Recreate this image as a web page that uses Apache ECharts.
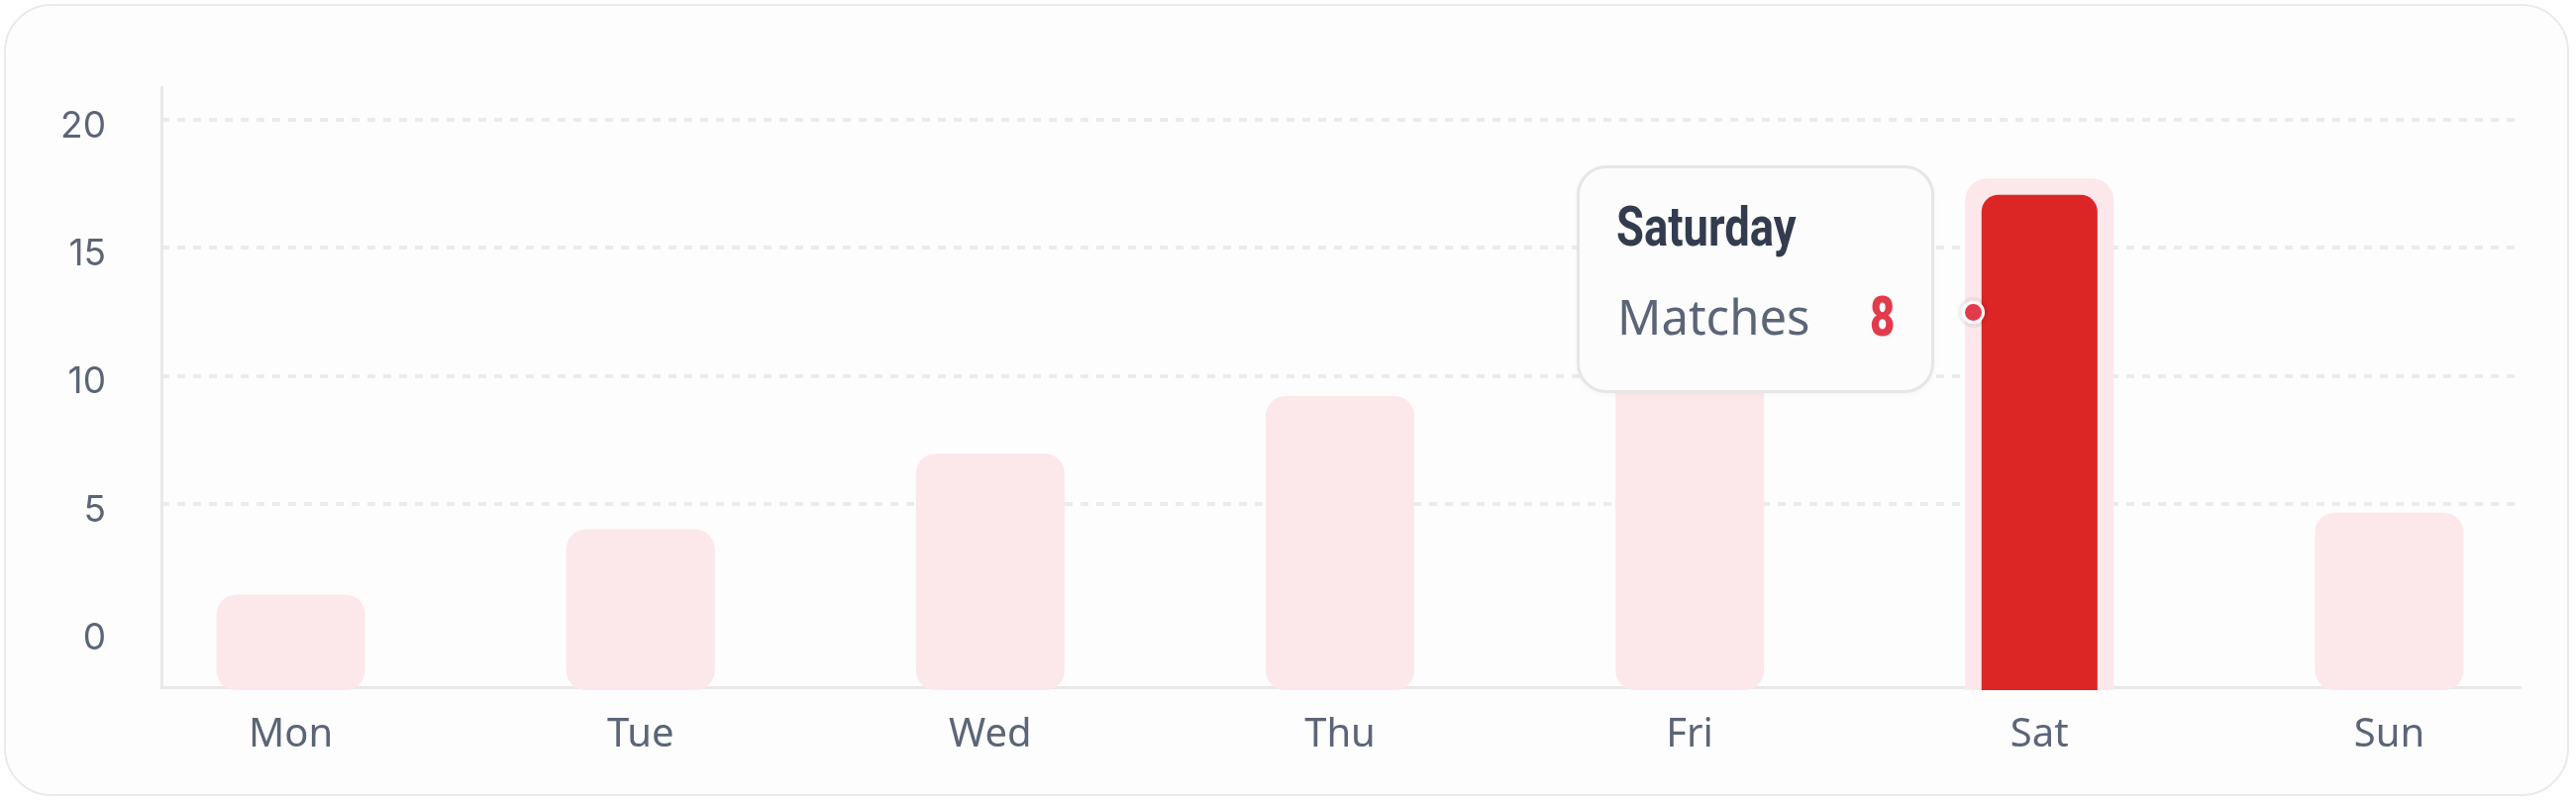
<!DOCTYPE html>
<html><head><meta charset="utf-8">
<script src="https://cdn.jsdelivr.net/npm/echarts@6/dist/echarts.min.js"></script>
<style>
html,body{margin:0;padding:0;background:#ffffff;}
#card{position:absolute;left:4px;top:4px;width:2586px;height:796px;border:2px solid #EAEAEA;border-radius:48px;background:#FDFDFD;}
#chart{position:absolute;left:0;top:0;width:2601px;height:810px;}
.tt{position:absolute;white-space:nowrap;transform-origin:0 0;}
</style></head><body>
<div id="card"></div><div id="chart"></div>
<script>
// ---- data ----
const days = ['Mon', 'Tue', 'Wed', 'Thu', 'Fri', 'Sat', 'Sun'];
const matches = [1.45, 4.0, 6.95, 9.2, 12.0, 17.7, 4.65];
const yTicks = [0, 5, 10, 15, 20];
const yGridTicks = [5, 10, 15, 20];
const highlightIndex = 5;
const tooltipTitle = 'Saturday';
const tooltipLabel = 'Matches';
const tooltipValue = 8;
const yMin = -2.184;
const yMax = 21.264;

const chart = echarts.init(document.getElementById('chart'), null, {renderer: 'canvas'});

const tipHtml =
  '<div style="position:relative;width:355px;height:224px;">' +
  '<div class="tt" style="left:37px;top:31px;font-family:Roboto;font-weight:bold;font-size:56px;line-height:56px;color:#333C4E;transform:scaleX(0.81);">' + tooltipTitle + '</div>' +
  '<div class="tt" style="left:38px;top:125px;font-family:\'Noto Sans\';font-size:49px;line-height:49px;color:#5B6577;">' + tooltipLabel + '</div>' +
  '<div class="tt" style="left:293px;top:122px;font-family:Roboto;font-weight:900;font-size:56px;line-height:56px;color:#E23B4B;transform:scaleX(0.78);">' + tooltipValue + '</div>' +
  '<div style="position:absolute;left:386px;top:134px;width:17px;height:17px;border:3px solid #ffffff;border-radius:50%;background:#E23B4B;box-shadow:0 0 0 4px rgba(0,0,0,0.05);"></div>' +
  '</div>';

const option = {
  animation: false,
  grid: [
    {left: 163, right: 56, top: 88, bottom: 115.5, outerBoundsMode: 'none'},
    {left: 117, right: 12, top: 88, bottom: 115.5, outerBoundsMode: 'none'}
  ],
  xAxis: [
    {
      gridIndex: 0, type: 'category', data: days,
      axisLine: {show: true, onZero: false, lineStyle: {color: '#E8E8E8', width: 3}},
      axisTick: {show: false}, axisLabel: {show: false}, splitLine: {show: false}
    },
    {
      gridIndex: 1, type: 'category', data: days,
      axisLine: {show: false, onZero: false}, axisTick: {show: false}, splitLine: {show: false},
      axisLabel: {fontFamily: 'Noto Sans', fontSize: 40, lineHeight: 40, color: '#5B6577', margin: 28}
    }
  ],
  yAxis: [
    {
      gridIndex: 0, type: 'value', min: yMin, max: yMax,
      axisLine: {show: true, lineStyle: {color: '#E8E8E8', width: 3}},
      axisTick: {show: false, customValues: yGridTicks},
      axisLabel: {customValues: yTicks, fontFamily: 'Inter', fontSize: 37, lineHeight: 14, verticalAlign: 'top', color: '#5B6577', margin: 56},
      splitLine: {show: true, lineStyle: {color: '#EBEBEB', width: 4, type: [8, 8]}}
    },
    {
      gridIndex: 1, type: 'value', min: yMin, max: yMax, show: false,
      splitLine: {show: false}
    }
  ],
  tooltip: {
    trigger: 'item', triggerOn: 'none', alwaysShowContent: true,
    transitionDuration: 0, padding: 0, borderWidth: 3, borderColor: '#E6E6E6',
    backgroundColor: '#FCFCFC', borderRadius: 30,
    extraCssText: 'box-shadow:0 2px 6px rgba(0,0,0,0.03);overflow:visible;',
    position: function () {
      const p = chart.convertToPixel({xAxisIndex: 1, yAxisIndex: 1}, [highlightIndex, matches[highlightIndex]]);
      return [p[0] - 467.5, p[1] - 12.7];
    },
    formatter: function () { return tipHtml; }
  },
  series: [{
    type: 'custom',
    name: tooltipLabel,
    xAxisIndex: 1, yAxisIndex: 1,
    encode: {x: 0, y: 1},
    data: days.map(function (d, i) { return [i, matches[i]]; }),
    renderItem: function (params, api) {
      const i = api.value(0);
      const v = api.value(1);
      const top = api.coord([i, v]);
      const bottom = api.coord([i, yMin]);
      const bw = api.size([1, 0])[0] * 0.425;
      const x = top[0] - bw / 2;
      const h = bottom[1] - top[1] + 2.5;
      const hl = i === highlightIndex;
      const children = [{
        type: 'rect',
        shape: {x: x, y: top[1], width: bw, height: h, r: hl ? [22, 22, 0, 0] : 20},
        style: {fill: '#FCE8EB'}
      }];
      if (hl) {
        const inset = bw * 0.11;
        children.push({
          type: 'rect',
          shape: {x: x + inset, y: top[1] + inset, width: bw - 2 * inset, height: h - inset, r: [17, 17, 0, 0]},
          style: {fill: '#DC2626'}
        });
      }
      return {type: 'group', children: children};
    }
  }]
};

chart.setOption(option);
chart.dispatchAction({type: 'showTip', seriesIndex: 0, dataIndex: highlightIndex});
</script>
</body></html>
